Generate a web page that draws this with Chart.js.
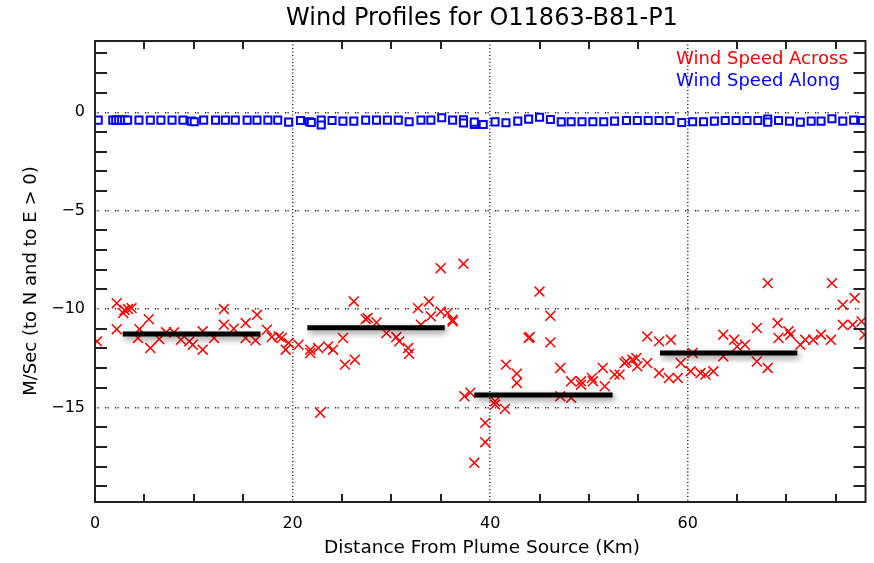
<!DOCTYPE html>
<html>
<head>
<meta charset="utf-8">
<script src="https://cdn.jsdelivr.net/npm/chart.js@4.4.0/dist/chart.umd.min.js"></script>
<style>
  body { margin: 0; background: #fff; }
  #wrap { width: 874px; height: 563px; }
</style>
</head>
<body>
<div id="wrap"><canvas id="chart" width="874" height="563"></canvas></div>
<script>
// ---- data ----
var titleText = 'Wind Profiles for O11863-B81-P1';
var xTitle = 'Distance From Plume Source (Km)';
var yTitle = 'M/Sec (to N and to E > 0)';
var seriesNames = ['Wind Speed Across', 'Wind Speed Along'];

var xMajorTicks = [0, 20, 40, 60];
var xMinorTicks = [5, 10, 15, 25, 30, 35, 45, 50, 55, 65, 70, 75];
var yMajorTicks = [0, -5, -10, -15];
var yMinorTicks = [3, 2, 1, -1, -2, -3, -4, -6, -7, -8, -9, -11, -12, -13, -14, -16, -17, -18, -19];

// Wind speed across (red crosses)
var acrossX = [0.2, 2.2, 2.2, 2.85, 3.0, 3.35, 3.7, 4.35, 4.5, 5.45, 5.6, 6.5, 7.2, 8.0, 8.7, 9.55, 9.9,
  10.9, 10.9, 12.05, 13.05, 13.05, 14.05, 15.25, 15.25, 16.25, 16.4, 17.4, 17.9, 18.6, 18.9, 19.3, 19.6,
  20.6, 21.8, 21.8, 22.6, 22.8, 23.6, 24.1, 25.1, 25.3, 26.2, 26.3, 27.4, 27.6, 28.5, 29.5, 30.5, 30.8,
  31.7, 31.8, 32.7, 33.0, 33.8, 34.0, 35.0, 35.0, 35.7, 36.2, 36.2, 37.3, 37.4, 38.0, 38.4, 39.5, 39.5,
  40.5, 40.5, 41.5, 41.6, 42.7, 42.7, 43.9, 44.0, 45.0, 46.1, 46.1, 47.1, 47.1, 48.2, 48.2, 49.2, 49.2,
  50.3, 50.4, 51.4, 51.6, 52.6, 53.1, 53.6, 53.8, 54.4, 54.8, 54.9, 55.9, 55.9, 57.1, 57.1, 58.1, 58.3,
  59.0, 59.3, 60.3, 60.5, 61.3, 61.8, 62.6, 63.6, 63.6, 64.7, 65.0, 65.8, 67.0, 67.0, 68.1, 68.1, 69.1,
  69.2, 70.2, 70.4, 71.4, 71.9, 72.7, 73.5, 74.5, 74.6, 75.7, 75.7, 76.7, 76.9, 77.6, 77.9];
var acrossY = [-11.64, -9.70, -11.02, -10.2, -10.05, -10.0, -9.95, -11.47, -11.02, -10.51, -11.98, -11.52, -11.18, -11.18, -11.56, -11.64, -11.81,
  -11.13, -12.06, -11.47, -10.0, -10.8, -11.0, -10.71, -11.47, -11.59, -10.29, -11.05, -11.42, -11.39, -11.47, -12.06, -11.72,
  -11.81, -12.06, -12.23, -11.98, -15.27, -11.9, -12.06, -11.47, -12.82, -9.61, -12.57, -10.51, -10.45, -10.68, -11.22, -11.42, -11.64,
  -11.98, -12.27, -9.95, -10.8, -9.61, -10.37, -7.92, -10.12, -10.2, -10.54, -10.63, -7.7, -14.43, -14.25, -17.81, -16.76, -15.78,
  -14.68, -14.85, -15.07, -12.82, -13.28, -13.75, -11.47, -11.42, -9.11, -10.34, -11.69, -12.99, -14.43, -13.67, -14.51, -13.67, -13.84,
  -13.5, -13.67, -12.99, -13.92, -13.33, -13.33, -12.74, -12.66, -12.57, -12.49, -12.91, -12.74, -11.39, -11.64, -13.25, -13.5, -11.56,
  -13.5, -12.74, -13.16, -12.23, -13.25, -13.33, -13.16, -11.3, -12.4, -11.56, -11.9, -11.81, -10.96, -12.66, -8.68, -12.99, -10.71,
  -11.47, -11.13, -11.3, -11.81, -11.56, -11.56, -11.3, -11.56, -8.68, -9.78, -10.8, -10.8, -9.44, -10.63, -11.3];

// Wind speed along (blue squares)
var alongX = [0.33, 1.8, 2.1, 2.4, 2.7, 3.0, 3.3, 4.45, 5.6, 6.67, 7.8, 8.9, 9.75, 10.05, 11.0, 12.2, 13.2, 14.2,
  15.4, 16.4, 17.5, 18.5, 19.6, 20.8, 21.7, 21.9, 22.9, 22.9, 24.0, 25.1, 26.2, 27.4, 28.5, 29.6, 30.7, 31.8,
  33.0, 34.0, 35.1, 36.2, 37.3, 37.3, 38.4, 38.4, 39.3, 40.5, 41.6, 42.8, 43.9, 45.0, 46.1, 47.2, 48.2, 49.3,
  50.4, 51.5, 52.6, 53.8, 54.9, 56.0, 57.1, 58.2, 59.4, 60.5, 61.6, 62.7, 63.8, 64.9, 66.0, 67.1, 68.1, 68.1,
  69.2, 70.3, 71.4, 72.5, 73.5, 74.6, 75.7, 76.8, 77.7];
var alongY = [-0.40, -0.40, -0.40, -0.40, -0.40, -0.40, -0.40, -0.40, -0.40, -0.40, -0.40, -0.40, -0.45, -0.48, -0.40, -0.40, -0.40, -0.40,
  -0.40, -0.40, -0.40, -0.40, -0.50, -0.42, -0.48, -0.52, -0.40, -0.65, -0.42, -0.45, -0.45, -0.40, -0.40, -0.40, -0.40, -0.48,
  -0.40, -0.40, -0.28, -0.40, -0.38, -0.55, -0.62, -0.50, -0.62, -0.49, -0.53, -0.45, -0.35, -0.25, -0.37, -0.49, -0.48, -0.48,
  -0.48, -0.48, -0.45, -0.42, -0.42, -0.42, -0.42, -0.42, -0.52, -0.48, -0.48, -0.45, -0.42, -0.42, -0.42, -0.42, -0.35, -0.50,
  -0.42, -0.45, -0.50, -0.45, -0.45, -0.33, -0.45, -0.40, -0.42];

// Segment averages (black bars): start, end, value
var barStart = [2.8, 21.5, 38.4, 57.2];
var barEnd = [16.75, 35.4, 52.4, 71.1];
var barValue = [-11.27, -10.95, -14.36, -12.23];

function pts(xs, ys) {
  return xs.map(function (x, i) { return { x: x, y: ys[i] }; });
}

var datasets = [];
// bars first so they sit on top of the crosses
barStart.forEach(function (s, i) {
  datasets.push({
    type: 'line',
    isBar: true,
    data: [{ x: s, y: barValue[i] }, { x: barEnd[i], y: barValue[i] }],
    borderColor: '#000',
    borderWidth: 5,
    borderCapStyle: 'butt',
    pointRadius: 0
  });
});
datasets.push({
  label: seriesNames[1],
  data: pts(alongX, alongY),
  pointStyle: 'rect',
  pointRadius: 5,
  borderColor: '#0000ff',
  backgroundColor: '#ffffff',
  borderWidth: 2,
  showLine: false
});
datasets.push({
  label: seriesNames[0],
  data: pts(acrossX, acrossY),
  pointStyle: 'crossRot',
  pointRadius: 7,
  borderColor: '#ff0000',
  borderWidth: 1.5,
  showLine: false
});

// Frame, inward ticks and all the text
var decorPlugin = {
  id: 'decor',
  beforeDatasetDraw: function (chart, args) {
    if (args.meta._dataset.isBar) {
      var ctx = chart.ctx;
      ctx.save();
      ctx.shadowColor = 'rgba(0,0,0,0.45)';
      ctx.shadowBlur = 6;
      ctx.shadowOffsetX = 2;
      ctx.shadowOffsetY = 3;
    }
  },
  afterDatasetDraw: function (chart, args) {
    if (args.meta._dataset.isBar) chart.ctx.restore();
  },
  afterDraw: function (chart) {
    var ctx = chart.ctx, a = chart.chartArea;
    var xs = chart.scales.x, ys = chart.scales.y;
    ctx.save();
    ctx.strokeStyle = '#222';
    ctx.lineWidth = 2;
    ctx.strokeRect(a.left, a.top, a.right - a.left, a.bottom - a.top);
    ctx.beginPath();
    yMinorTicks.forEach(function (v) {
      var y = Math.round(ys.getPixelForValue(v));
      ctx.moveTo(a.left, y); ctx.lineTo(a.left + 12, y);
      ctx.moveTo(a.right, y); ctx.lineTo(a.right - 12, y);
    });
    xMinorTicks.forEach(function (v) {
      var x = Math.round(xs.getPixelForValue(v));
      ctx.moveTo(x, a.bottom); ctx.lineTo(x, a.bottom - 8);
      ctx.moveTo(x, a.top); ctx.lineTo(x, a.top + 8);
    });
    ctx.stroke();

    ctx.fillStyle = '#000';
    ctx.textAlign = 'center';
    ctx.textBaseline = 'middle';
    ctx.font = '24px "DejaVu Sans"';
    ctx.fillText(titleText, 482, 19);
    ctx.font = '18.5px "DejaVu Sans"';
    ctx.fillText(xTitle, 482, 548);
    ctx.save();
    ctx.translate(31, 281);
    ctx.rotate(-Math.PI / 2);
    ctx.font = '18px "DejaVu Sans"';
    ctx.fillText(yTitle, 0, 0);
    ctx.restore();

    // legend: text only, coloured like the series
    ctx.textAlign = 'left';
    ctx.font = '18px "DejaVu Sans"';
    ctx.fillStyle = '#ff0000';
    ctx.fillText(seriesNames[0], 676, 59);
    ctx.fillStyle = '#0000ff';
    ctx.fillText(seriesNames[1], 676, 81);
    ctx.restore();
  }
};

new Chart(document.getElementById('chart'), {
  type: 'scatter',
  data: { datasets: datasets },
  plugins: [decorPlugin],
  options: {
    responsive: false,
    animation: false,
    layout: { padding: { left: 0, top: 41, right: 3, bottom: 0 } },
    plugins: { legend: { display: false }, tooltip: { enabled: false }, title: { display: false } },
    scales: {
      x: {
        type: 'linear',
        min: 0,
        max: 78,
        afterBuildTicks: function (s) { s.ticks = xMajorTicks.map(function (v) { return { value: v }; }); },
        afterFit: function (s) { s.height = 61; },
        ticks: { color: '#000', padding: 12, font: { family: 'DejaVu Sans', size: 16 } },
        grid: { color: '#222', lineWidth: 1.5, drawTicks: false },
        border: { display: false, dash: [1, 2.5] }
      },
      y: {
        type: 'linear',
        min: -19.8,
        max: 3.62,
        afterBuildTicks: function (s) { s.ticks = yMajorTicks.map(function (v) { return { value: v }; }); },
        afterFit: function (s) { s.width = 95; },
        ticks: {
          color: '#000',
          padding: 10,
          font: { family: 'DejaVu Sans', size: 16 },
          callback: function (v) { return v < 0 ? '\u2212' + Math.abs(v) : String(v); }
        },
        grid: { color: '#222', lineWidth: 1.5, drawTicks: false },
        border: { display: false, dash: [1.2, 1.3, 1.2, 6.3] }
      }
    }
  }
});
</script>
</body>
</html>
